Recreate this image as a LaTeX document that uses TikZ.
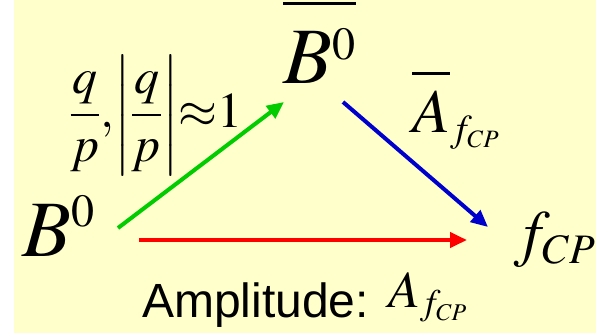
\documentclass[tikz,border=0pt]{standalone}
\usepackage{mathptmx}
\usepackage[no-math]{fontspec}
\newfontfamily\ampfont{Liberation Sans}
\usetikzlibrary{arrows.meta}
\definecolor{slide-yellow}{HTML}{FFFFCC}
\definecolor{mix-green}{HTML}{00CC00}
\definecolor{decay-blue}{HTML}{0000CC}
\definecolor{direct-red}{HTML}{FF0000}
\DeclareMathSizes{80}{80}{46}{32}
\DeclareMathSizes{63}{63}{42}{29}
\DeclareMathSizes{62}{62}{38}{25}
\DeclareMathSizes{52}{52}{36}{24}
\DeclareMathSizes{50}{50}{35}{25}

\begin{document}
\begin{tikzpicture}[x=1pt,y=-1pt,
		state/.style={
			anchor=base west, inner sep=0pt,
			font=\fontsize{80}{84}\selectfont
		},
		final/.style={
			anchor=base west, inner sep=0pt,
			font=\fontsize{63}{66}\selectfont
		},
		amp/.style={
			anchor=base west, inner sep=0pt,
			font=\fontsize{62}{66}\selectfont
		},
		caption/.style={
			anchor=base west, inner sep=0pt,
			font=\fontsize{48}{50}\selectfont
		},
		mixlabel/.style={
			inner sep=0pt,
			font=\fontsize{50}{54}\selectfont
		},
		flow/.style={
			line width=4pt,
			-{Triangle[length=17pt,width=15pt]}
		}
		]
		
		\useasboundingbox (0,0) rectangle (596,333);
		\fill[slide-yellow] (14,0) rectangle (596,333);
		
		% states
		\node[state] (B0) at (22,256) {$B^0$};
		\node[state] (B0bar) at (283,83) {$\overline{\rule{0pt}{68pt}B^0}$};
		\node[final] (fcp) at (514,254) {$f_{CP}$};
		
		% arrow ends
		\coordinate (mixS) at (118,228);
		\coordinate (mixE) at (284,102);
		\coordinate (barS) at (343,102);
		\coordinate (barE) at (488,227);
		\coordinate (dirS) at (139,240);
		\coordinate (dirE) at (467,240);
		
		\draw[flow,mix-green] (mixS) -- (mixE);
		\draw[flow,decay-blue] (barS) -- (barE);
		\draw[flow,direct-red] (dirS) -- (dirE);
		
		% labels
		\node[mixlabel] (mixing) at (156,115)
		{$\displaystyle\frac{q}{p},\mkern-2mu\left|\rule[-38pt]{0pt}{100pt}\frac{q}{p}\right|\mkern-2mu{\approx}1$};
		\node[amp] (Abar) at (412,132) {$\overline{\rule{0pt}{50pt}A}_{f_{CP}}$};
		\node[caption] (direct) at (142,317)
		{{\ampfont Amplitude:} \raisebox{10pt}{\fontsize{52}{56}\selectfont$A_{f_{CP}}$}};
		
	\end{tikzpicture}
\end{document}
